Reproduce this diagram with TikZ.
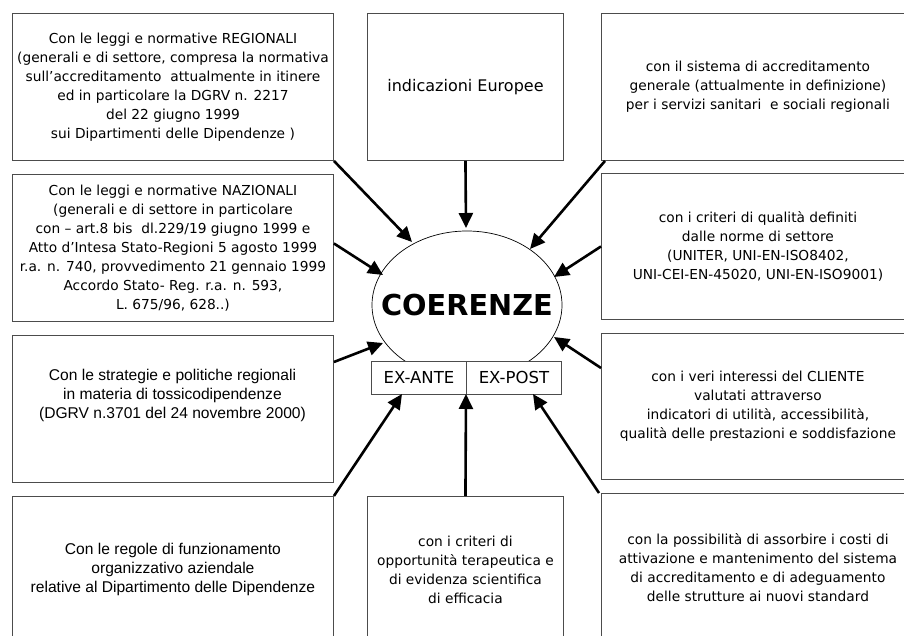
\documentclass[tikz,border=0pt]{standalone}
\usepackage{fontspec}
\setmainfont{DejaVu Sans}
\newfontfamily\arialf{Liberation Sans}
\usetikzlibrary{shapes.geometric,arrows.meta,calc}
\begin{document}
\begin{tikzpicture}[x=1pt,y=-1pt,
  box/.style={draw=black!70, line width=0.9pt, rectangle, inner sep=0pt, anchor=north west,
    align=center, font=\fontsize{13.75}{19}\selectfont},
  arialtext/.style={align=center, inner sep=0pt, font=\arialf\fontsize{15.6}{19}\selectfont},
  arr/.style={line width=2.6pt, -{Triangle[length=15pt,width=14pt]}},
  exbox/.style={draw=black!70, line width=0.9pt, fill=white, rectangle, inner sep=0pt,
    minimum width=95pt, minimum height=33pt, anchor=north west, font=\fontsize{16.5}{19}\selectfont}]
\useasboundingbox (0,0) rectangle (904,636);
\clip (0,0) rectangle (904,636);
% left column
\node[box, minimum width=321pt, minimum height=147pt] (A) at (12,13)
  {Con le leggi e normative REGIONALI\\(generali e di settore, compresa la normativa\\sull’accreditamento \ attualmente in itinere\\ed in particolare la DGRV n. 2217\\del 22 giugno 1999\\sui Dipartimenti delle Dipendenze )};
\node[box, minimum width=321pt, minimum height=147pt] (B) at (12,174)
  {Con le leggi e normative NAZIONALI\\(generali e di settore in particolare\\con – art.8 bis \ dl.229/19 giugno 1999 e\\Atto d’Intesa Stato-Regioni 5 agosto 1999\\r.a. n. 740, provvedimento 21 gennaio 1999\\Accordo Stato- Reg. r.a. n. 593,\\L. 675/96, 628..)};
\node[box, minimum width=321pt, minimum height=147pt] (C) at (12,335) {};
\node[arialtext] (Ct) at (172.5,395)
  {Con le strategie e politiche regionali\\in materia di tossicodipendenze\\(DGRV n.3701 del 24 novembre 2000)};
\node[box, minimum width=321pt, minimum height=147pt, font=\arialf\fontsize{15.6}{19}\selectfont] (D) at (12,496)
  {Con le regole di funzionamento\\organizzativo aziendale\\relative al Dipartimento delle Dipendenze};
% middle column
\node[box, minimum width=196pt, minimum height=147pt, font=\fontsize{16}{19}\selectfont] (E) at (367,13) {indicazioni Europee};
\node[box, minimum width=196pt, minimum height=147pt] (F) at (367,496)
  {con i criteri di\\opportunità terapeutica e\\di evidenza scientifica\\di efficacia};
% right column
\node[box, minimum width=313pt, minimum height=147pt] (G) at (601,13)
  {con il sistema di accreditamento\\generale (attualmente in definizione)\\per i servizi sanitari \ e sociali regionali};
\node[box, minimum width=313pt, minimum height=146pt] (H) at (601,173)
  {con i criteri di qualità definiti\\dalle norme di settore\\(UNITER, UNI-EN-ISO8402,\\UNI-CEI-EN-45020, UNI-EN-ISO9001)};
\node[box, minimum width=313pt, minimum height=146pt] (I) at (601,333)
  {con i veri interessi del CLIENTE\\valutati attraverso\\indicatori di utilità, accessibilità,\\qualità delle prestazioni e soddisfazione};
\node[box, minimum width=313pt, minimum height=148pt] (J) at (601,493)
  {con la possibilità di assorbire i costi di\\attivazione e mantenimento del sistema\\di accreditamento e di adeguamento\\delle strutture ai nuovi standard};
% centre
\node[draw=black, line width=0.7pt, ellipse, minimum width=190pt, minimum height=148pt, inner sep=0pt] (K) at (467,305) {};
\node[inner sep=0pt, font=\bfseries\fontsize{28.8}{30}\selectfont] (Kt) at (K.center) {COERENZE};
\node[exbox] (XA) at (371,361) {EX-ANTE};
\node[exbox] (XP) at (466,361) {EX-POST};
% tips
\coordinate (t1) at (412,242);
\coordinate (t2) at (383,275);
\coordinate (t3) at (466,228);
\coordinate (t4) at (530,249);
\coordinate (t5) at (554,277);
\coordinate (t6) at (383,343);
\coordinate (t7) at (554,337);
\coordinate (t8) at (402,394);
\coordinate (t9) at (466,394);
\coordinate (t10) at (533,394);
% arrows
\draw[arr] (A.south east) -- (t1);
\draw[arr] ($(B.east)+(0,-4.5)$) -- (t2);
\draw[arr] (E.south) -- (t3);
\draw[arr] ($(G.south west)+(4,0)$) -- (t4);
\draw[arr] (H.west) -- (t5);
\draw[arr] ($(C.north east)+(0,27)$) -- (t6);
\draw[arr] ($(I.north west)+(0,35)$) -- (t7);
\draw[arr] (D.north east) -- (t8);
\draw[arr] (F.north) -- (t9);
\draw[arr] ($(J.north west)+(-2,0)$) -- (t10);
\end{tikzpicture}
\end{document}
